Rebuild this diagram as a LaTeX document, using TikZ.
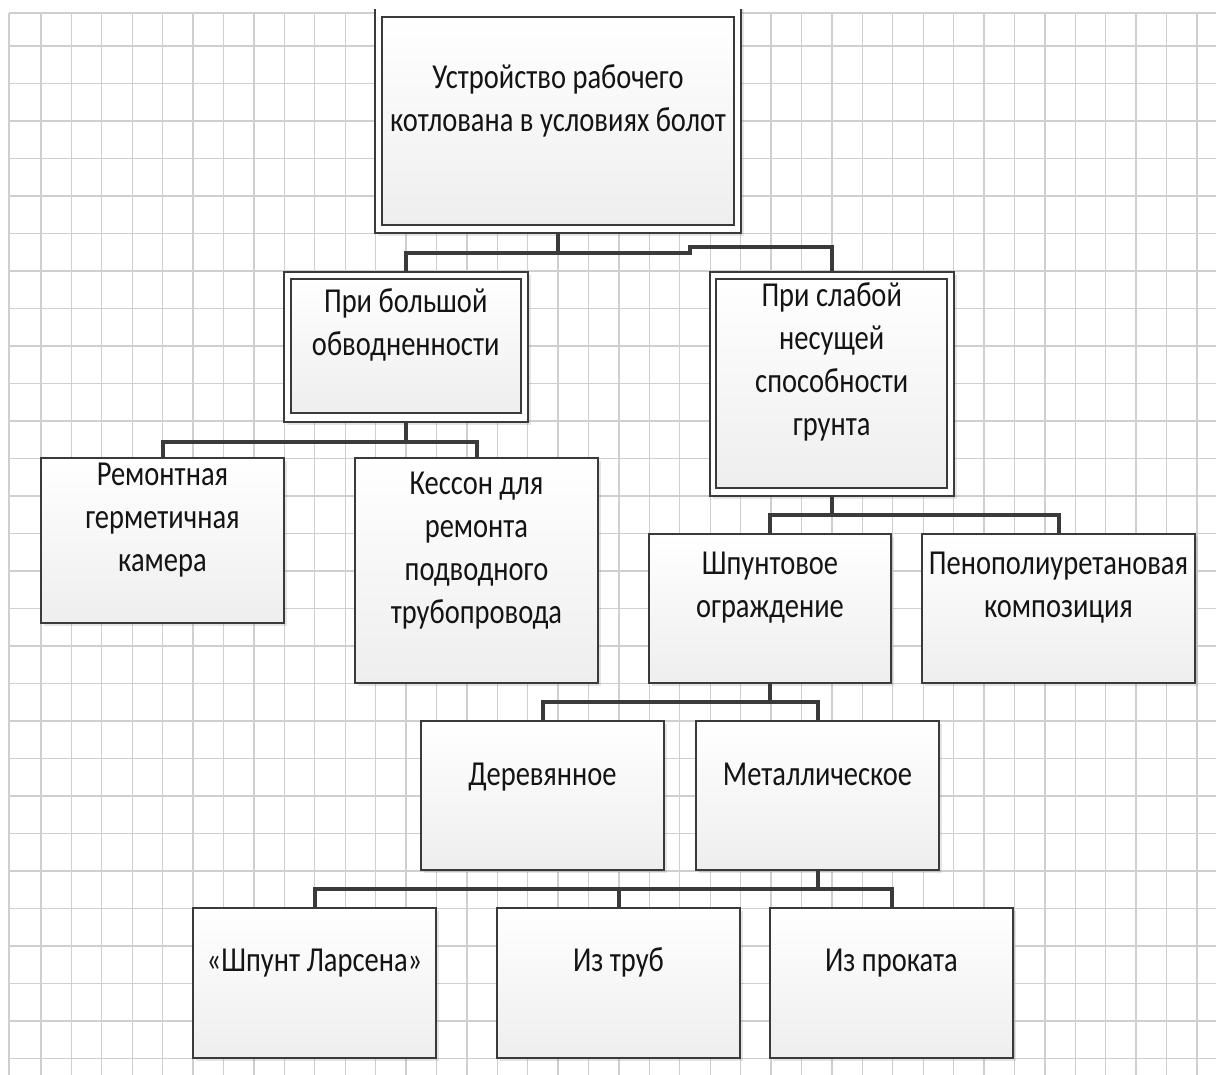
\documentclass[tikz,border=0pt]{standalone}
\usepackage{fontspec}
\setmainfont{Carlito}
\usepackage{graphicx}
\usetikzlibrary{shadows}
\definecolor{gridc}{HTML}{CFCFCF}
\definecolor{edge}{HTML}{3A3A3A}
\definecolor{fillb}{HTML}{EEEEEE}
\newcommand\vtext[1]{\scalebox{1}[1.23]{\begin{tabular}{@{}c@{}}#1\end{tabular}}}
\begin{document}
\begin{tikzpicture}[x=1pt,y=-1pt,
  shd/.style={drop shadow={opacity=0.2, shadow xshift=3pt, shadow yshift=-3pt}},
  box/.style={draw=edge, line width=2pt, top color=white, bottom color=fillb, outer sep=0pt, inner sep=0pt, anchor=north west, shd},
  obox/.style={draw=edge, line width=2pt, fill=white, outer sep=0pt, inner sep=0pt, anchor=north west, shd},
  ibox/.style={draw=edge, line width=2pt, top color=white, bottom color=fillb, outer sep=0pt, inner sep=0pt, anchor=north west},
  lbl/.style={inner sep=0pt, font=\fontsize{28.5}{35}\selectfont, text=black!92},
  conn/.style={draw=edge, line width=4pt, line join=miter}
]
\useasboundingbox (0,0) rectangle (1216,1075);
\fill[white] (0,0) rectangle (1216,1075);
% grid
\begin{scope}[draw=gridc, line width=1.3pt]
  \draw (9,13) -- (9,1075);
  \draw (9,13) -- (1216,13);
  \foreach \i in {0,...,38} \draw ({41+30.42*\i},13) -- ({41+30.42*\i},1075);
  \foreach \j in {0,...,27} \draw (9,{46+37.5*\j}) -- (1216,{46+37.5*\j});
\end{scope}
\begin{scope}
\clip (0,10) rectangle (1216,1075);
% top box
\node[obox, minimum width=366, minimum height=263] (topo) at (374.6,-30) {};
\node[ibox, minimum width=352, minimum height=208.5] (topi) at (381.5,17) {};
\node[lbl] (topt) at (558,101) {\vtext{Устройство рабочего\\котлована в условиях болот}};
% A
\node[obox, minimum width=243.5, minimum height=149.5] (ao) at (284,272) {};
\node[ibox, minimum width=230, minimum height=134] (ai) at (291,279) {};
\node[lbl] (at) at (405.7,325) {\vtext{При большой\\обводненности}};
% B
\node[obox, minimum width=243.5, minimum height=223.5] (bo) at (710,272) {};
\node[ibox, minimum width=230.5, minimum height=208.5] (bi) at (716,279.5) {};
\node[lbl] (bt) at (831.7,362) {\vtext{При слабой\\несущей\\способности\\грунта}};
% level 3
\node[box, minimum width=243, minimum height=165] (rem) at (41,458) {};
\node[lbl] (remt) at (162.5,520) {\vtext{Ремонтная\\герметичная\\камера}};
\node[box, minimum width=243, minimum height=225] (kes) at (355,458) {};
\node[lbl] (kest) at (476.5,550) {\vtext{Кессон для\\ремонта\\подводного\\трубопровода}};
\node[box, minimum width=242, minimum height=149] (shp) at (649,534) {};
\node[lbl] (shpt) at (770,587) {\vtext{Шпунтовое\\ограждение}};
\node[box, minimum width=273, minimum height=149] (pen) at (922,534) {};
\node[lbl] (pent) at (1058.5,587) {\vtext{Пенополиуретановая\\композиция}};
% level 4
\node[box, minimum width=243, minimum height=149] (der) at (421,721) {};
\node[lbl] (dert) at (542.5,777) {\vtext{Деревянное}};
\node[box, minimum width=243, minimum height=149] (met) at (696,721) {};
\node[lbl] (mett) at (817.5,777) {\vtext{Металлическое}};
% level 5
\node[box, minimum width=243, minimum height=150] (lar) at (193,908) {};
\node[lbl] (lart) at (314.5,963) {\vtext{«Шпунт Ларсена»}};
\node[box, minimum width=243, minimum height=150] (tru) at (497,908) {};
\node[lbl] (trut) at (618.5,963) {\vtext{Из труб}};
\node[box, minimum width=243, minimum height=150] (pro) at (770,908) {};
\node[lbl] (prot) at (891.5,963) {\vtext{Из проката}};
% connectors
\coordinate (j1) at (558,253);
\coordinate (k1) at (690,253);
\coordinate (k2) at (690,247);
\draw[conn] (topo.south -| j1) -- (j1) -| (ao.north);
\draw[conn] (j1) -- (k1) -- (k2) -| (bo.north);
\draw[conn] (ao.south) -- ++(0,20) coordinate (j2) -| (rem.north);
\draw[conn] (j2) -| (kes.north);
\draw[conn] (bo.south) -- ++(0,19.5) coordinate (j3) -| (shp.north);
\draw[conn] (j3) -| (pen.north);
\draw[conn] (shp.south) -- ++(0,19) coordinate (j4) -| (der.north);
\draw[conn] (j4) -| (met.north);
\draw[conn] (met.south) -- ++(0,19) coordinate (j5) -| (lar.north);
\draw[conn] (j5) -| (tru.north);
\draw[conn] (j5) -| (pro.north);
\end{scope}
\end{tikzpicture}
\end{document}
